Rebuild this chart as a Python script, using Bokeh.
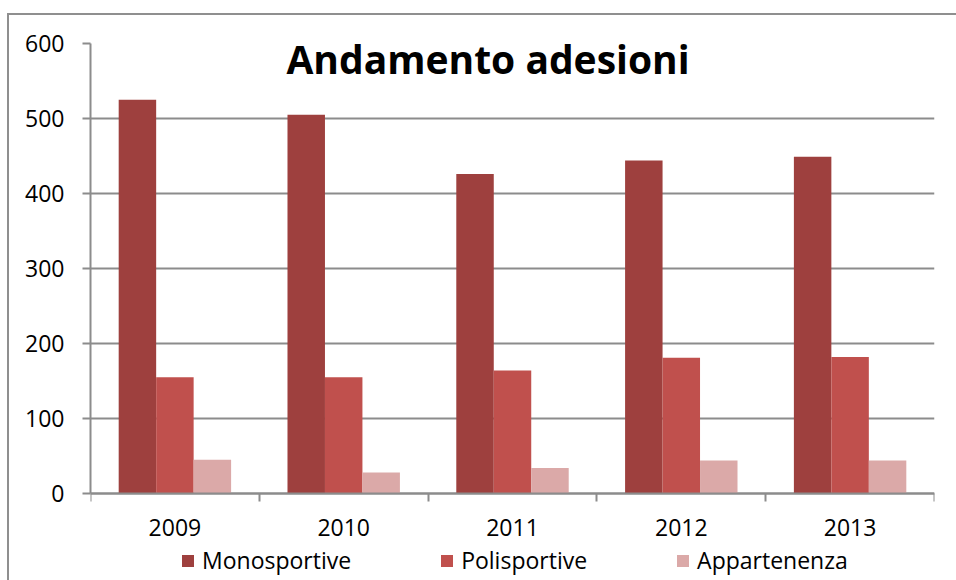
from bokeh.plotting import figure
from bokeh.models import (ColumnDataSource, Range1d, LinearAxis,
                          FixedTicker, Legend, LegendItem, Label, Grid)
from bokeh.transform import dodge
from bokeh.embed import file_html
from bokeh.resources import INLINE

years = ["2009", "2010", "2011", "2012", "2013"]
mono = [525, 505, 426, 444, 449]
poli = [155, 155, 164, 181, 182]
app = [45, 28, 34, 44, 44]
series_names = ["Monosportive", "Polisportive", "Appartenenza"]
y_ticks = [0, 100, 200, 300, 400, 500, 600]
title_text = "Andamento adesioni"

colors = ["#9e403e", "#c0504d", "#dba9a8"]
FONT = "Open Sans"
GRAY = "#8c8c8c"

xpos = [i + 0.5 for i in range(len(years))]
bounds = list(range(len(years) + 1))
src = ColumnDataSource(dict(x=xpos, years=years, mono=mono, poli=poli, app=app))

# frame extends below zero so the legend can sit inside it (0 stays at the same pixel row)
p = figure(x_range=Range1d(0, len(years)), y_range=Range1d(-116, 600),
           frame_width=844, frame_height=537, output_backend="svg",
           toolbar_location=None, x_axis_location=None, y_axis_location=None,
           min_border_left=81, min_border_top=28, min_border_right=23, min_border_bottom=0)
p.outline_line_color = None
p.styles = {"border-top": "2px solid #8f8f8f", "border-left": "2px solid #8f8f8f",
            "margin-top": "13px", "margin-left": "7px"}
p.center = [r for r in p.center if not isinstance(r, Grid)]

bw = 0.222
cols = ["mono", "poli", "app"]
renderers = []
for i, c in enumerate(cols):
    r = p.vbar(x=dodge("x", (i - 1) * bw), top=c, bottom=0, width=bw,
               source=src, fill_color=colors[i], line_color=None)
    renderers.append(r)

# y axis
yax = LinearAxis(ticker=FixedTicker(ticks=y_ticks), bounds=(0, 600))
yax.axis_line_color = GRAY
yax.axis_line_width = 2
yax.major_tick_line_color = GRAY
yax.major_tick_line_width = 2
yax.major_tick_out = 8
yax.major_tick_in = 0
yax.minor_tick_line_color = None
yax.major_label_text_font = FONT
yax.major_label_text_font_size = "23px"
yax.major_label_text_color = "#000000"
yax.major_label_standoff = 18
p.add_layout(yax, "left")

# x axis at y=0: year labels at category centres, tick marks (minor) at category boundaries
xax = LinearAxis(ticker=FixedTicker(ticks=xpos, minor_ticks=bounds), fixed_location=0,
                 major_label_overrides={x: y for x, y in zip(xpos, years)})
xax.axis_line_color = GRAY
xax.axis_line_width = 2
xax.major_tick_line_color = None
xax.major_tick_out = 0
xax.major_tick_in = 0
xax.minor_tick_line_color = GRAY
xax.minor_tick_line_width = 2
xax.minor_tick_out = 8
xax.minor_tick_in = 0
xax.major_label_text_font = FONT
xax.major_label_text_font_size = "23px"
xax.major_label_text_color = "#000000"
xax.major_label_standoff = 17
p.add_layout(xax, "below")

g = Grid(dimension=1, ticker=yax.ticker, grid_line_color=GRAY, grid_line_width=2)
p.add_layout(g)

legend = Legend(items=[LegendItem(label=n, renderers=[r]) for n, r in zip(series_names, renderers)],
                orientation="horizontal", location=(90, 4),
                glyph_width=15, glyph_height=15, label_standoff=7, spacing=88,
                label_text_font=FONT, label_text_font_size="23px", label_text_color="#000000",
                border_line_color=None, background_fill_alpha=0, padding=0, margin=0)
p.add_layout(legend)

title = Label(x=2.355, y=580, text=title_text, text_align="center",
              text_baseline="alphabetic", text_font=FONT, text_font_style="bold",
              text_font_size="39px", text_color="#000000")
p.add_layout(title)

open("out.html", "w").write(file_html(p, INLINE))
